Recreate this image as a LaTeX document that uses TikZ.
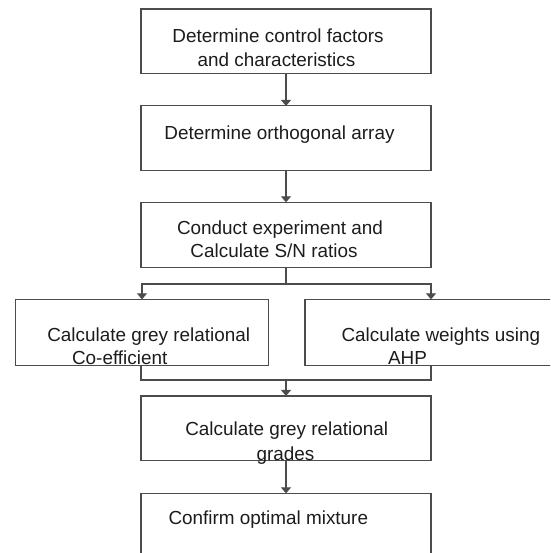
\documentclass[tikz,border=0pt]{standalone}
\usepackage{fontspec}
\setmainfont{Liberation Sans}
\usetikzlibrary{arrows.meta}
\definecolor{linegrey}{HTML}{4C4C4C}
\definecolor{inkgrey}{HTML}{1C1C1C}
\tikzset{
    stepbox/.style={draw=linegrey, line width=1.1pt, inner sep=0pt, outer sep=0pt},
    steptext/.style={text=inkgrey, inner sep=0pt, anchor=base,
        font=\fontsize{18.9}{23}\selectfont},
    flow/.style={draw=linegrey, line width=1.1pt, -{Triangle[width=10pt,length=6pt]}},
    link/.style={draw=linegrey, line width=1.1pt},
}
\begin{document}
\begin{tikzpicture}[x=1pt, y=-1pt]
    \useasboundingbox (0,0) rectangle (550,553);
    \clip (0,0) rectangle (550,553);
    % boxes
    \node[stepbox, minimum width=290pt, minimum height=64.3pt] (factors) at (286,41.2) {};
    \node[stepbox, minimum width=290pt, minimum height=64.7pt] (array) at (286,138.3) {};
    \node[stepbox, minimum width=290pt, minimum height=65pt] (experiment) at (286,234.8) {};
    \node[stepbox, minimum width=253.3pt, minimum height=65.7pt] (coeff) at (141.7,332.2) {};
    \node[stepbox, minimum width=295pt, minimum height=65.7pt] (weights) at (452.5,332.2) {};
    \node[stepbox, minimum width=290pt, minimum height=64.7pt] (grades) at (286,428.3) {};
    \node[stepbox, minimum width=290pt, minimum height=106.7pt] (confirm) at (286,546.7) {};
    % texts (placed by baseline)
    \node[steptext] (factorsA) at (278,42.5) {Determine control factors};
    \node[steptext] (factorsB) at (276.5,66.5) {and characteristics};
    \node[steptext] (arrayA) at (279.5,139.2) {Determine orthogonal array};
    \node[steptext] (experimentA) at (280,234.2) {Conduct experiment and};
    \node[steptext] (experimentB) at (274,257.5) {Calculate S/N ratios};
    \node[steptext] (coeffA) at (148.7,341.8) {Calculate grey relational};
    \node[steptext] (coeffB) at (119.7,364.2) {Co-efficient};
    \node[steptext] (weightsA) at (440.8,341.8) {Calculate weights using};
    \node[steptext] (weightsB) at (407.5,364.2) {AHP};
    \node[steptext] (gradesA) at (286.7,435.8) {Calculate grey relational};
    \node[steptext] (gradesB) at (285.5,460.5) {grades};
    \node[steptext] (confirmA) at (268.3,524.2) {Confirm optimal mixture};
    % connectors
    \coordinate (split) at (286,284);
    \coordinate (join) at (286,380);
    \draw[flow] (factors) -- (array);
    \draw[flow] (array) -- (experiment);
    \draw[link] (experiment.south) -- (split);
    \draw[flow] (split) -| ([xshift=1pt]coeff.north -| experiment.west);
    \draw[flow] (split) -| (weights.north -| experiment.east);
    \draw[link] (coeff.south -| experiment.west) |- (join)
        -| (weights.south -| experiment.east);
    \draw[flow] (join) -- (grades.north);
    \draw[flow] (grades) -- (confirm);
\end{tikzpicture}
\end{document}
